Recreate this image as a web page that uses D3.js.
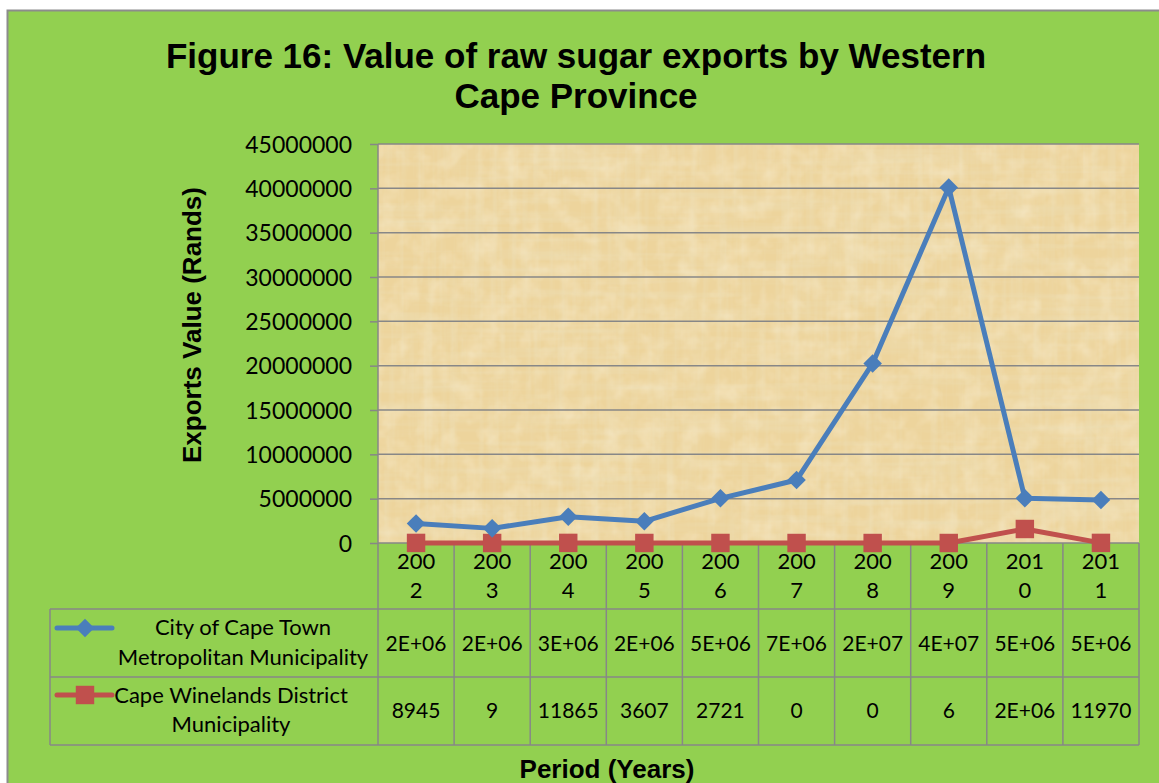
<!DOCTYPE html>
<html>
<head>
<meta charset="utf-8">
<script src="https://cdn.jsdelivr.net/npm/d3@7"></script>
<style>
  body { margin: 0; background: #fff; }
  svg { display: block; }
  .tick text { font-family: Lato, "Open Sans", sans-serif; font-size: 23px; fill: #000; }
</style>
</head>
<body>
<svg id="chart"></svg>
<script>
var width = 1159, height = 783;

// data
var years = ["2002", "2003", "2004", "2005", "2006", "2007", "2008", "2009", "2010", "2011"];
var capeTown = [2200000, 1650000, 2970000, 2450000, 5040000, 7100000, 20250000, 40100000, 5050000, 4850000];
var winelands = [8945, 9, 11865, 3607, 2721, 0, 0, 6, 1580000, 11970];
var seriesNames = [
        ["City of Cape Town", "Metropolitan Municipality"],
        ["Cape Winelands District", "Municipality"]
];
var yTicks = [0, 5000000, 10000000, 15000000, 20000000, 25000000, 30000000, 35000000, 40000000, 45000000];

var blue = "#4A7EBB", red = "#C0504D", grid = "#878787";

var plotLeft = 378, plotRight = 1139, plotTop = 144, plotBottom = 543;
var rowY = [543, 609, 677, 745];
var tableLeft = 50;

var x = d3.scaleBand()
        .domain(years)
        .range([plotLeft, plotRight]);

var y = d3.scaleLinear()
        .domain([0, 45000000])
        .range([plotBottom, plotTop]);

var svg = d3.select("#chart")
        .attr("width", width)
        .attr("height", height);

// papyrus texture for the plot area
var defs = svg.append("defs");
function fibres(id, freq, seed, rgb, a) {
        var f = defs.append("filter").attr("id", id)
                .attr("x", 0).attr("y", 0).attr("width", 1).attr("height", 1);
        f.append("feTurbulence").attr("type", "fractalNoise")
                .attr("baseFrequency", freq).attr("numOctaves", 3).attr("seed", seed);
        f.append("feColorMatrix").attr("type", "matrix")
                .attr("values", "0 0 0 0 " + rgb[0] + "  0 0 0 0 " + rgb[1] + "  0 0 0 0 " + rgb[2] + "  " + a + " 0 0 0 " + (-a * 0.42));
}
fibres("fibH", "0.006 0.12", 4, [0.84, 0.72, 0.44], 1.5);
fibres("fibV", "0.12 0.006", 9, [0.85, 0.73, 0.46], 1.3);
fibres("fibL", "0.05 0.05", 2, [0.97, 0.89, 0.70], 0.8);

// chart background
svg.append("rect")
        .attr("x", 7.5).attr("y", 10.5)
        .attr("width", width + 20).attr("height", height + 20)
        .attr("fill", "#92D050")
        .attr("stroke", "#8C8C8C")
        .attr("stroke-width", 2);

["#EDD49C", "url(#fibH)", "url(#fibV)", "url(#fibL)"].forEach(function (f, i) {
        var r = svg.append("rect")
                .attr("x", plotLeft).attr("y", plotTop)
                .attr("width", plotRight - plotLeft).attr("height", plotBottom - plotTop);
        if (i === 0) r.attr("fill", f);
        else r.attr("filter", f);
});

// title
var title = svg.append("text")
        .attr("text-anchor", "middle")
        .style("font-family", "'Liberation Sans', Arial, sans-serif")
        .style("font-weight", "bold")
        .style("font-size", "35px");
title.append("tspan").attr("x", 576).attr("y", 68).text("Figure 16: Value of raw sugar exports by Western");
title.append("tspan").attr("x", 576).attr("y", 108).text("Cape Province");

// gridlines
svg.append("g")
        .selectAll("line")
        .data(yTicks.slice(1))
        .enter().append("line")
        .attr("x1", plotLeft).attr("x2", plotRight)
        .attr("y1", function (d) { return y(d); })
        .attr("y2", function (d) { return y(d); })
        .attr("stroke", grid)
        .attr("stroke-width", 1.5);

// y axis
var yAxis = svg.append("g")
        .attr("transform", "translate(" + plotLeft + ",0)")
        .call(d3.axisLeft(y).tickValues(yTicks).tickSize(8).tickPadding(18).tickFormat(d3.format("d")));
yAxis.selectAll("line").attr("stroke", grid).attr("stroke-width", 1.5);
yAxis.select(".domain").remove();
yAxis.selectAll("text").attr("dy", "0.36em");

svg.append("text")
        .attr("transform", "translate(201,325) rotate(-90)")
        .attr("text-anchor", "middle")
        .style("font-family", "'Liberation Sans', Arial, sans-serif")
        .style("font-weight", "bold")
        .style("font-size", "26px")
        .text("Exports Value (Rands)");

// data table grid
var tbl = svg.append("g")
        .attr("stroke", grid)
        .attr("stroke-width", 1.5);
tbl.append("line").attr("x1", plotLeft).attr("x2", plotLeft).attr("y1", plotTop).attr("y2", rowY[3]);
tbl.selectAll(".vcol")
        .data(years)
        .enter().append("line")
        .attr("class", "vcol")
        .attr("x1", function (d) { return x(d) + x.bandwidth(); })
        .attr("x2", function (d) { return x(d) + x.bandwidth(); })
        .attr("y1", rowY[0]).attr("y2", rowY[3]);
tbl.append("line").attr("x1", plotLeft).attr("x2", plotRight).attr("y1", rowY[0]).attr("y2", rowY[0]);
tbl.selectAll(".hrow")
        .data(rowY.slice(1))
        .enter().append("line")
        .attr("class", "hrow")
        .attr("x1", tableLeft).attr("x2", plotRight)
        .attr("y1", function (d) { return d; })
        .attr("y2", function (d) { return d; });
tbl.append("line").attr("x1", tableLeft).attr("x2", tableLeft).attr("y1", rowY[1]).attr("y2", rowY[3]);

var cellFont = "Lato, 'Open Sans', sans-serif";

// category labels, wrapped like the original
var cat = svg.append("g")
        .attr("text-anchor", "middle")
        .style("font-family", cellFont)
        .style("font-size", "22px");
cat.selectAll("text")
        .data(years)
        .enter().append("text")
        .each(function (d) {
                var t = d3.select(this);
                var cx = x(d) + x.bandwidth() / 2;
                t.append("tspan").attr("x", cx).attr("y", 569).text(d.slice(0, 3));
                t.append("tspan").attr("x", cx).attr("y", 598).text(d.slice(3));
        });

// excel "General" format in a narrow cell
function general(v) {
        var s = String(Math.round(v));
        if (s.length <= 5) return s;
        var e = v.toExponential(0).toUpperCase().split("E");
        var ex = +e[1];
        return e[0] + "E" + (ex < 0 ? "-" : "+") + (Math.abs(ex) < 10 ? "0" : "") + Math.abs(ex);
}

var series = [
        { values: capeTown, color: blue, names: seriesNames[0], vy: 651, ny: [635, 665], nx: 243 },
        { values: winelands, color: red, names: seriesNames[1], vy: 718, ny: [703, 732], nx: 231 }
];

series.forEach(function (s) {
        svg.append("g")
                .attr("text-anchor", "middle")
                .style("font-family", cellFont)
                .style("font-size", "21px")
                .selectAll("text")
                .data(s.values)
                .enter().append("text")
                .attr("x", function (d, i) { return x(years[i]) + x.bandwidth() / 2; })
                .attr("y", s.vy)
                .text(general);

        var nm = svg.append("text")
                .attr("text-anchor", "middle")
                .style("font-family", cellFont)
                .style("font-size", "22px");
        s.names.forEach(function (n, j) {
                nm.append("tspan").attr("x", s.nx).attr("y", s.ny[j]).text(n);
        });
});

// lines and markers
var line = d3.line()
        .x(function (d, i) { return x(years[i]) + x.bandwidth() / 2; })
        .y(function (d) { return y(d); });

var diamond = d3.symbol().type(d3.symbolDiamond2).size(220);
var square = d3.symbol().type(d3.symbolSquare).size(340);

svg.append("path")
        .datum(winelands)
        .attr("d", line)
        .attr("fill", "none")
        .attr("stroke", red)
        .attr("stroke-width", 5)
        .attr("stroke-linejoin", "round");
svg.selectAll(".sq")
        .data(winelands)
        .enter().append("path")
        .attr("class", "sq")
        .attr("d", square)
        .attr("fill", red)
        .attr("transform", function (d, i) {
                return "translate(" + (x(years[i]) + x.bandwidth() / 2) + "," + y(d) + ")";
        });

svg.append("path")
        .datum(capeTown)
        .attr("d", line)
        .attr("fill", "none")
        .attr("stroke", blue)
        .attr("stroke-width", 5)
        .attr("stroke-linejoin", "round");
svg.selectAll(".dm")
        .data(capeTown)
        .enter().append("path")
        .attr("class", "dm")
        .attr("d", diamond)
        .attr("fill", blue)
        .attr("transform", function (d, i) {
                return "translate(" + (x(years[i]) + x.bandwidth() / 2) + "," + y(d) + ")";
        });

// legend keys inside the table
var keyY = [628, 695];
series.forEach(function (s, k) {
        svg.append("line")
                .attr("x1", 57).attr("x2", 112)
                .attr("y1", keyY[k]).attr("y2", keyY[k])
                .attr("stroke", s.color)
                .attr("stroke-width", 5)
                .attr("stroke-linecap", "round");
        svg.append("path")
                .attr("d", k === 0 ? diamond() : square())
                .attr("fill", s.color)
                .attr("transform", "translate(85," + keyY[k] + ")");
});

svg.append("text")
        .attr("x", 607).attr("y", 778)
        .attr("text-anchor", "middle")
        .style("font-family", "'Liberation Sans', Arial, sans-serif")
        .style("font-weight", "bold")
        .style("font-size", "26px")
        .text("Period (Years)");
</script>
</body>
</html>
